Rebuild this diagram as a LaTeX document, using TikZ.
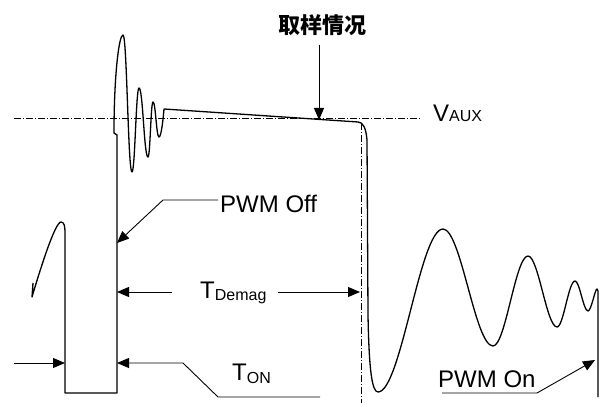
\documentclass[tikz,border=0pt]{standalone}
\usepackage{fontspec}
\setmainfont{Liberation Sans}
\newfontfamily\cjk{Noto Sans CJK SC}
\usetikzlibrary{arrows.meta}

\newcommand{\subtxt}[2][2pt]{\raisebox{-#1}{\fontsize{16}{18}\selectfont #2}}

\begin{document}
\begin{tikzpicture}[x=1pt, y=-1pt,
    wave/.style={line width=1.3pt, line join=round},
    refline/.style={line width=0.7pt, dash pattern=on 7pt off 2pt on 1pt off 2pt},
    arrow/.style={-{Triangle[length=12pt,width=10pt]}, line width=0.9pt},
    label/.style={font=\fontsize{24}{28}\selectfont, inner sep=0pt},
    title/.style={font=\fontsize{22}{26}\selectfont\cjk\bfseries, inner sep=0pt},
]
\useasboundingbox (0,0) rectangle (601,403);

% Reference lines
\coordinate (vl) at (14,118);
\coordinate (vr) at (420,118);
\coordinate (tt) at (361,123);
\coordinate (tb) at (361,403);
\draw[refline] (vl) -- (vr);
\draw[refline] (tt) -- (tb);

% Waveform
\draw[wave] (33,283) -- (32,297) .. controls (40,270) and (55,222) .. (61,222)
  .. controls (64,222) and (65,226) .. (65,232) -- (65,393) -- (117,393) -- (117,135) -- (114,133)
  .. controls (114,75) and (119,35) .. (123,35)
  .. controls (127,35) and (128,172) .. (132,172)
  .. controls (135,172) and (136,88) .. (139,88)
  .. controls (143,88) and (144,157) .. (148,157)
  .. controls (150.2,157) and (150.8,102) .. (153,102)
  .. controls (155.7,102) and (156.3,137) .. (159,137)
  .. controls (161.5,137) and (163.5,115) .. (164,109)
  -- (358,122) .. controls (363,122) and (366,128) .. (367,140)
  -- (368,315) .. controls (369,370) and (372,392) .. (378,392)
  .. controls (401,392) and (420,229) .. (443,229)
  .. controls (461,229) and (475,346) .. (493,346)
  .. controls (505.6,346) and (515.4,256) .. (528,256)
  .. controls (538.4,256) and (546.6,327) .. (557,327)
  .. controls (563.5,327) and (568.5,281) .. (575,281)
  .. controls (579.7,281) and (583.3,311) .. (588,311)
  .. controls (591.2,311) and (595,289) .. (597,289)
  -- (598,291) -- (598,397);

% Labels
\node[title] (samp) at (322,25) {取样情况};
\node[label, anchor=base west] (vaux) at (433,122) {V\subtxt[0pt]{AUX}};
\node[label, anchor=base west] (off) at (220,212) {PWM Off};
\node[label, anchor=base west] (demag) at (200,298) {T\subtxt{Demag}};
\node[label, anchor=base west] (ton) at (232,380) {T\subtxt[3pt]{ON}};
\node[label, anchor=base west] (on) at (438,387) {PWM On};

% Arrow points
\coordinate (sampbeg) at (319,45);
\coordinate (samptip) at (319,120);
\coordinate (offbeg) at (218,200);
\coordinate (offknee) at (163,200);
\coordinate (offtip) at (117,243);
\coordinate (dmlbeg) at (172,292);
\coordinate (dmltip) at (117,292);
\coordinate (dmrbeg) at (278,292);
\coordinate (dmrtip) at (360,292);
\coordinate (onlbeg) at (14,363);
\coordinate (onltip) at (65,363);
\coordinate (onend) at (320,397);
\coordinate (onknee2) at (218,397);
\coordinate (onknee1) at (183,363);
\coordinate (onrtip) at (117,363);
\coordinate (pwmbeg) at (442,393);
\coordinate (pwmknee) at (537,393);
\coordinate (pwmtip) at (595,360);

% Arrows
\draw[arrow] (sampbeg) -- (samptip);
\draw[arrow] (offbeg) -- (offknee) -- (offtip);
\draw[arrow] (dmlbeg) -- (dmltip);
\draw[arrow] (dmrbeg) -- (dmrtip);
\draw[arrow] (onlbeg) -- (onltip);
\draw[arrow] (onend) -- (onknee2) -- (onknee1) -- (onrtip);
\draw[arrow] (pwmbeg) -- (pwmknee) -- (pwmtip);

\end{tikzpicture}
\end{document}
